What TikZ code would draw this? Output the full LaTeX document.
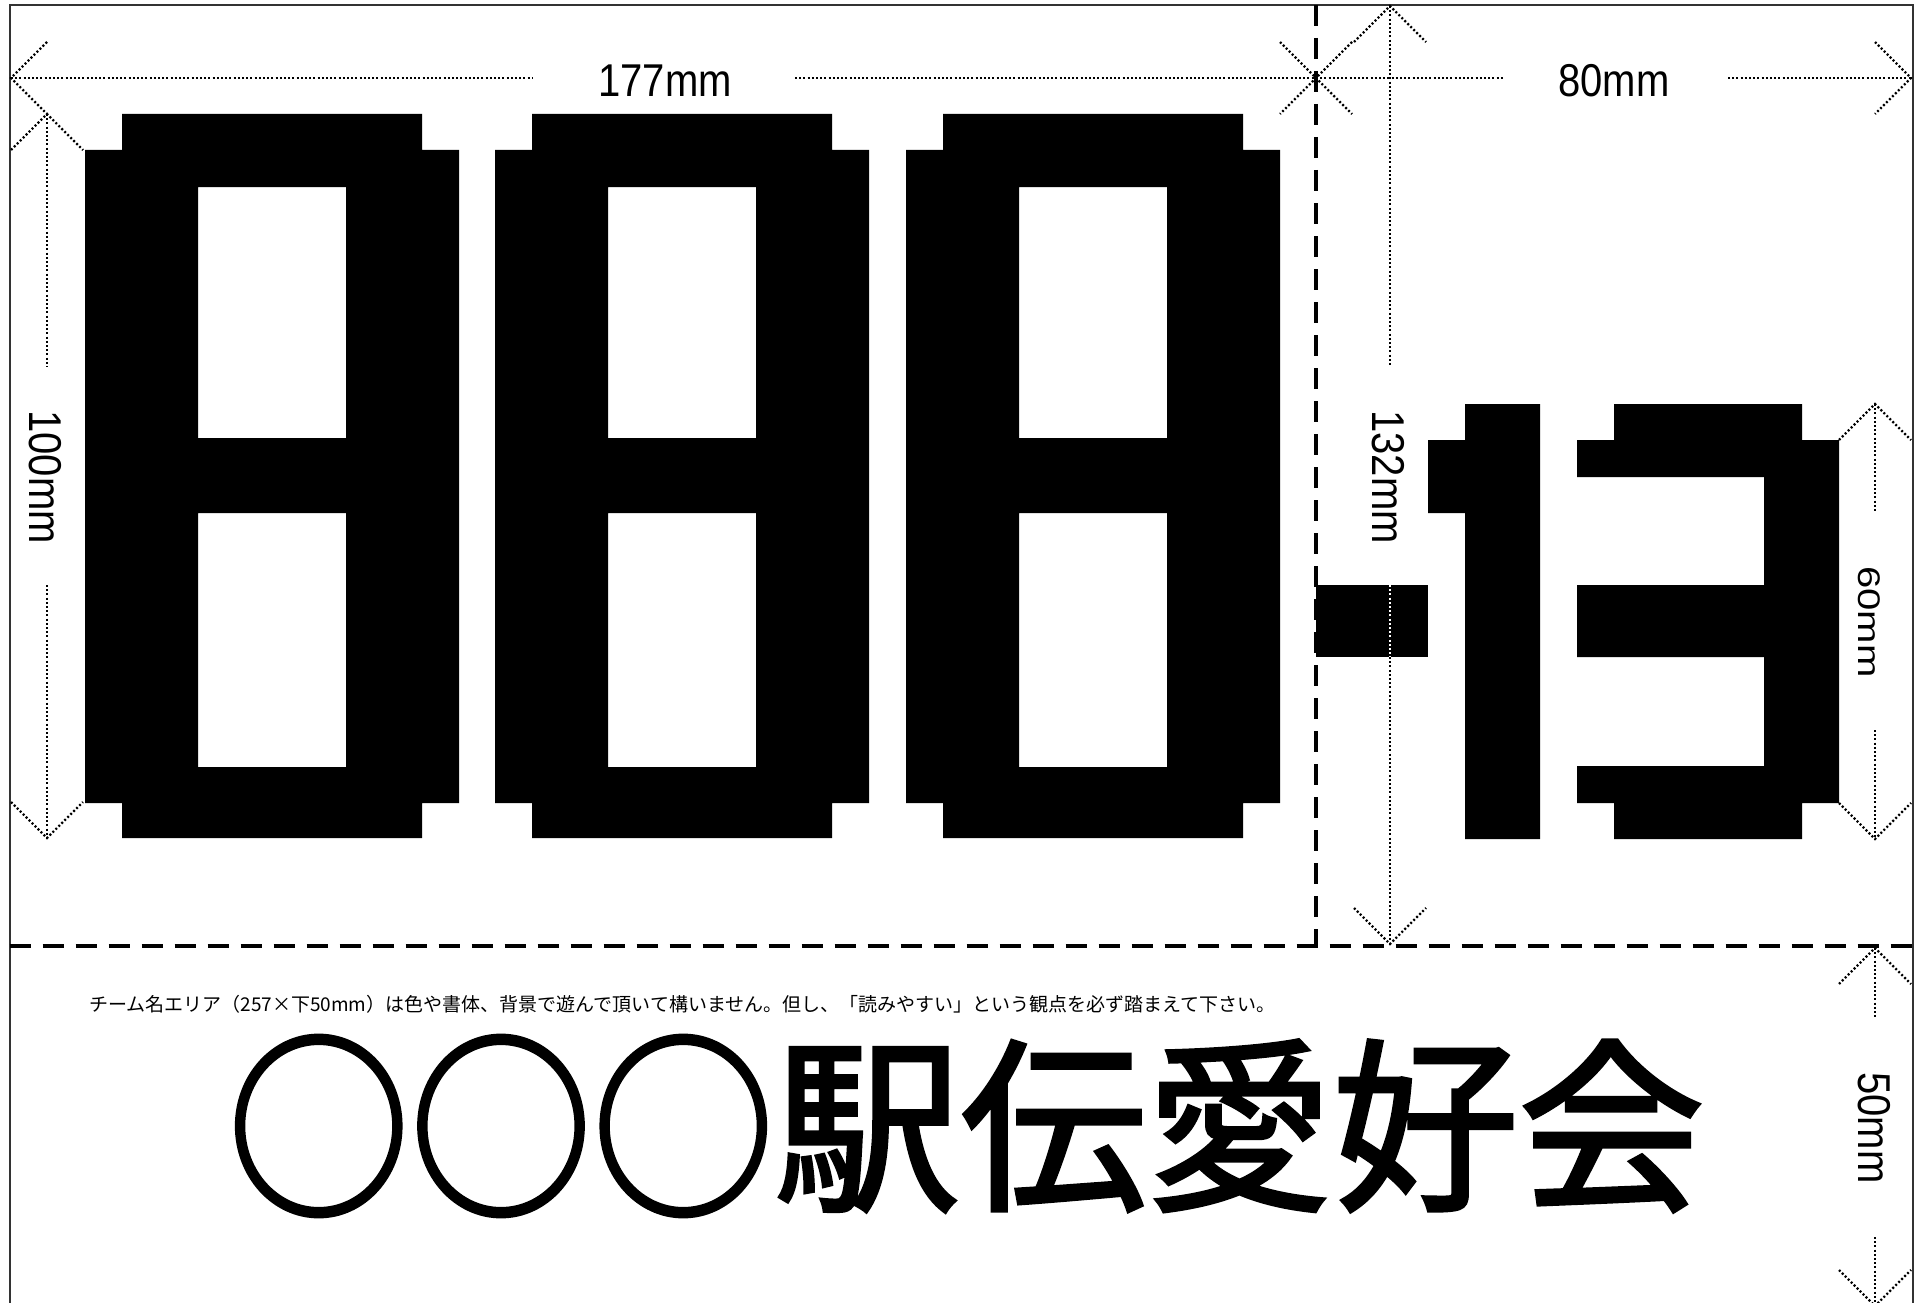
\documentclass[tikz,border=0pt]{standalone}
\usepackage{fontspec}
\newfontfamily\jpfont{Noto Sans CJK JP}
\newfontfamily\jptitle[FakeBold=2]{Noto Sans CJK JP}
\newfontfamily\latfont{Liberation Sans}
\tikzset{
  dimline/.style={line width=2.2pt, dash pattern=on 2pt off 2.2pt},
  cutline/.style={line width=4.5pt, dash pattern=on 21pt off 12pt},
  frameline/.style={line width=2pt, black!80},
  dimlabel/.style={inner sep=0pt, font=\latfont\fontsize{46}{46}\selectfont},
  glyph/.style={fill=black, even odd rule},
}
\newcommand\ovalmark{\raisebox{-6pt}{\scalebox{0.98}[1.08]{○}}}
\begin{document}
\begin{tikzpicture}[x=1pt,y=-1pt]
\useasboundingbox (0,0) rectangle (1917,1303);
\fill[white] (0,0) rectangle (1917,1303);
% ---- big digits 888
\foreach \X in {85,495,906}{
  \fill[glyph] (\X+37,114) rectangle (\X+337,150)
    (\X,150) rectangle (\X+374,803)
    (\X+113,187) rectangle (\X+261,438)
    (\X+113,513) rectangle (\X+261,767)
    (\X+37,803) rectangle (\X+337,838);
}
% dash
\fill (1316,585) rectangle (1428,657);
% 1
\fill (1465,404) -- (1540,404) -- (1540,839) -- (1465,839) -- (1465,513)
  -- (1428,513) -- (1428,440) -- (1465,440) -- cycle;
% 3
\fill (1614,404) -- (1802,404) -- (1802,440) -- (1839,440) -- (1839,803)
  -- (1802,803) -- (1802,839) -- (1614,839) -- (1614,803) -- (1577,803)
  -- (1577,766) -- (1764,766) -- (1764,657) -- (1577,657) -- (1577,585)
  -- (1764,585) -- (1764,477) -- (1577,477) -- (1577,440) -- (1614,440) -- cycle;
% ---- frame and cut lines
\draw[frameline] (9.5,1310) -- (9.5,5) -- (1913,5) -- (1913,1310);
\draw[cutline] (1316,5) -- (1316,946);
\draw[cutline] (9.5,946) -- (1913,946);
% ---- dimension 177mm
\coordinate (a1) at (11,78);
\coordinate (a2) at (1316,78);
\node[dimlabel] (t177) at (665,81) {\scalebox{0.87}[1]{177mm}};
\draw[dimline] (a1) -- (532,78) (795,78) -- (a2);
\draw[dimline] ([shift={(36,-36)}]a1) -- (a1) -- ([shift={(36,36)}]a1);
\draw[dimline] ([shift={(-36,-36)}]a2) -- (a2) -- ([shift={(-36,36)}]a2);
% ---- dimension 80mm
\coordinate (b1) at (1316,78);
\coordinate (b2) at (1911,78);
\node[dimlabel] (t80) at (1614,81) {\scalebox{0.87}[1]{80mm}};
\draw[dimline] (b1) -- (1503,78) (1728,78) -- (b2);
\draw[dimline] ([shift={(36,-36)}]b1) -- (b1) -- ([shift={(36,36)}]b1);
\draw[dimline] ([shift={(-36,-36)}]b2) -- (b2) -- ([shift={(-36,36)}]b2);
% ---- dimension 100mm
\coordinate (c1) at (47,114);
\coordinate (c2) at (47,838);
\node[dimlabel, rotate=-90] (t100) at (45,477) {\scalebox{0.87}[1]{100mm}};
\draw[dimline] (c1) -- (47,367) (47,585) -- (c2);
\draw[dimline] ([shift={(-36,36)}]c1) -- (c1) -- ([shift={(36,36)}]c1);
\draw[dimline] ([shift={(-36,-36)}]c2) -- (c2) -- ([shift={(36,-36)}]c2);
% ---- dimension 132mm
\coordinate (d1) at (1390,6);
\coordinate (d2) at (1390,944);
\node[dimlabel, rotate=-90] (t132) at (1388,477) {\scalebox{0.87}[1]{132mm}};
\draw[dimline] (d1) -- (1390,367);
\draw[dimline, white] (1390,585) -- (1390,657);
\draw[dimline] (1390,657) -- (d2);
\draw[dimline] ([shift={(-36,36)}]d1) -- (d1) -- ([shift={(36,36)}]d1);
\draw[dimline] ([shift={(-36,-36)}]d2) -- (d2) -- ([shift={(36,-36)}]d2);
% ---- dimension 60mm
\coordinate (e1) at (1875,404);
\coordinate (e2) at (1875,839);
\node[dimlabel, rotate=-90] (t60) at (1869,622) {\scalebox{0.87}[0.68]{60mm}};
\draw[dimline] (e1) -- (1875,513) (1875,730) -- (e2);
\draw[dimline] ([shift={(-36,36)}]e1) -- (e1) -- ([shift={(36,36)}]e1);
\draw[dimline] ([shift={(-36,-36)}]e2) -- (e2) -- ([shift={(36,-36)}]e2);
% ---- dimension 50mm
\coordinate (f1) at (1875,948);
\coordinate (f2) at (1875,1306);
\node[dimlabel, rotate=-90] (t50) at (1874,1128) {\scalebox{0.87}[1]{50mm}};
\draw[dimline] (f1) -- (1875,1019) (1875,1237) -- (f2);
\draw[dimline] ([shift={(-36,36)}]f1) -- (f1) -- ([shift={(36,36)}]f1);
\draw[dimline] ([shift={(-36,-36)}]f2) -- (f2) -- ([shift={(36,-36)}]f2);
% ---- team name area
\node[anchor=west, inner sep=0pt, font=\jpfont\fontsize{19}{19}\selectfont] (note) at (89,1004)
  {チーム名エリア（257×下50mm）は色や書体、背景で遊んで頂いて構いません。但し、「読みやすい」という観点を必ず踏まえて下さい。};
\node[inner sep=0pt, font=\jptitle\fontsize{186}{186}\selectfont] (title) at (966,1126)
  {\ovalmark\ovalmark\ovalmark 駅伝愛好会};
\end{tikzpicture}
\end{document}
